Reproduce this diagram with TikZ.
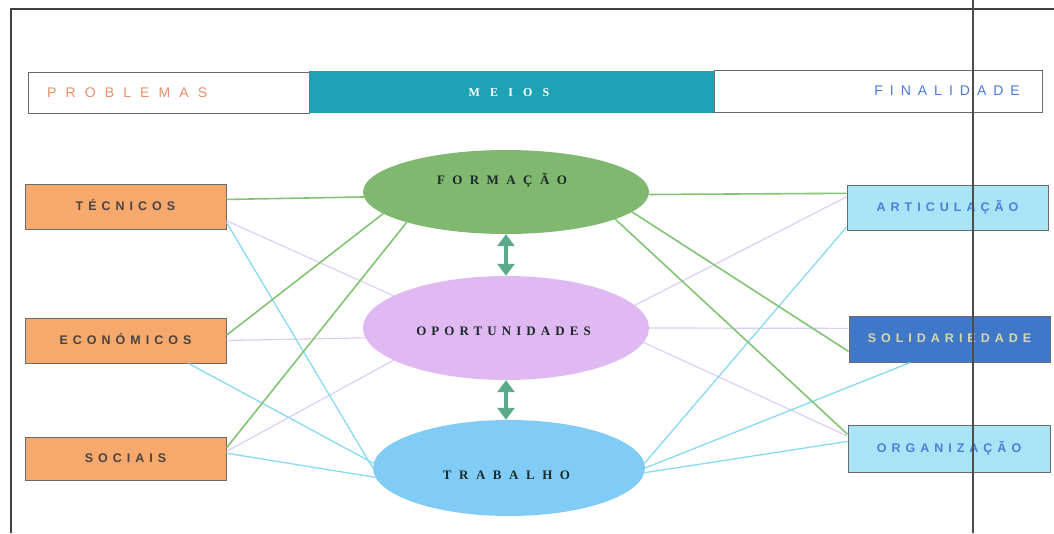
\documentclass[tikz,border=0pt]{standalone}
\usepackage{fontspec}
\setmainfont{Liberation Serif}
\newfontfamily\boxfont{Liberation Sans}
\usetikzlibrary{shapes.geometric,arrows.meta}
\definecolor{orangebox}{HTML}{F6A96C}
\definecolor{bordergray}{HTML}{6A6A6A}
\definecolor{tealhdr}{HTML}{1DA2B3}
\definecolor{probcol}{HTML}{E8906A}
\definecolor{fincol}{HTML}{4A7AD8}
\definecolor{lightcyan}{HTML}{A8E4F6}
\definecolor{solblue}{HTML}{3F78C8}
\definecolor{soltext}{HTML}{D8D8A8}
\definecolor{cyantext}{HTML}{4A80D8}
\definecolor{boxtext}{HTML}{4A4242}
\definecolor{formfill}{HTML}{80B870}
\definecolor{oporfill}{HTML}{E0B8F2}
\definecolor{trafill}{HTML}{80CCF6}
\definecolor{elltext}{HTML}{1C2A2A}
\definecolor{greenline}{HTML}{82C474}
\definecolor{cyanline}{HTML}{88DAF2}
\definecolor{lavline}{HTML}{DECDF5}
\definecolor{arrowcol}{HTML}{5BAA8C}
\newcommand{\lsp}[2]{{\addfontfeature{LetterSpace=#1}#2}}
\begin{document}
\begin{tikzpicture}[x=1pt,y=-1pt,
  hdrbox/.style={draw=bordergray,line width=1pt,fill=white,inner sep=0pt},
  tealbox/.style={fill=tealhdr,inner sep=0pt},
  hdrtext/.style={inner sep=0pt,font=\boxfont\fontsize{14}{16}\selectfont,text height=0.716em,text depth=0pt},
  probbox/.style={draw=bordergray,line width=1pt,fill=orangebox,inner sep=0pt,minimum width=201pt,
     font=\boxfont\bfseries\fontsize{12.5}{14}\selectfont,text=boxtext,text height=0.716em,text depth=0pt},
  finbox/.style={probbox,fill=lightcyan,text=cyantext},
  solbox/.style={probbox,fill=solblue,text=soltext},
  ellnode/.style={ellipse,inner sep=0pt},
  elltxt/.style={inner sep=0pt,font=\bfseries\fontsize{13}{15}\selectfont,text=elltext,text height=0.662em,text depth=0pt},
  gline/.style={draw=greenline,line width=1.6pt},
  cline/.style={draw=cyanline,line width=1.3pt},
  lline/.style={draw=lavline,line width=1.2pt},
  dblarrow/.style={draw=arrowcol,line width=4pt,{Triangle[width=17pt,length=12pt]}-{Triangle[width=17pt,length=12pt]}},
  frameline/.style={draw=black!75,line width=2pt},
  vline/.style={draw=black!70,line width=1.2pt}
]
\useasboundingbox (0,0) rectangle (1054,533);

% header
\node[hdrbox,minimum width=281pt,minimum height=41pt] (hp) at (168.5,92.5) {};
\node[hdrbox,minimum width=328pt,minimum height=42pt] (hf) at (878,91) {};
\node[tealbox,minimum width=405pt,minimum height=42pt] (hm) at (511.5,92) {};
\node[hdrtext,anchor=west,text=probcol] (tp) at (47,94) {\lsp{65}{PROBLEMAS}};
\node[hdrtext,font=\bfseries\fontsize{12}{14}\selectfont,text height=0.662em,text=white] (tm) at (509,93) {\lsp{85}{MEIOS}};
\node[hdrtext,anchor=east,text=fincol] (tf) at (1020,92) {\lsp{50}{FINALIDADE}};

% left boxes
\node[probbox,minimum height=45pt] (tec) at (125.5,206.5) {\lsp{40}{TÉCNICOS}};
\node[probbox,minimum height=45pt] (eco) at (125.5,340.5) {\lsp{40}{ECONÓMICOS}};
\node[probbox,minimum height=43pt] (soc) at (125.5,458.5) {\lsp{40}{SOCIAIS}};

% right boxes
\node[finbox,minimum height=45pt] (art) at (947.5,207.5) {\lsp{40}{ARTICULAÇÃO}};
\node[solbox,minimum height=46pt] (sol) at (949.5,339) {\lsp{40}{SOLIDARIEDADE}};
\node[finbox,minimum width=202pt,minimum height=47pt] (org) at (949,448.5) {\lsp{40}{ORGANIZAÇÃO}};

% ellipses
\node[ellnode,fill=formfill,minimum width=286pt,minimum height=84pt] (form) at (506,192) {};
\node[ellnode,fill=oporfill,minimum width=286pt,minimum height=104pt] (opor) at (506,328) {};
\node[ellnode,fill=trafill,minimum width=272pt,minimum height=96pt] (tra) at (509,468) {};
\node[elltxt] (tform) at (502,181) {\lsp{57}{FORMAÇÃO}};
\node[elltxt] (topor) at (503.5,332) {\lsp{39}{OPORTUNIDADES}};
\node[elltxt] (ttra) at (506.5,476) {\lsp{58}{TRABALHO}};

% lavender connectors
\draw[lline] (tec.352.3) -- (opor.164.2);
\draw[lline] (eco.0.9) -- (opor.184.5);
\draw[lline] (soc.4.8) -- (opor.196.7);
\draw[lline] (opor.10) -- (art.174.6);
\draw[lline] (opor.0) -- (sol.174.4);
\draw[lline] (opor.354) -- (org.173.5);

% cyan connectors
\draw[cline] (tec.351.2) -- (tra.180.4);
\draw[cline] (eco.340.8) -- (tra.178);
\draw[cline] (soc.3.7) -- (tra.184.3);
\draw[cline] (tra.2) -- (art.191.5);
\draw[cline] (tra.0) -- (sol.211.5);
\draw[cline] (tra.358) -- (org.176.3);

% green connectors
\draw[gline] (tec.4) -- (form.182.8);
\draw[gline] (eco.3) -- (form.190.9);
\draw[gline] (soc.6.5) -- (form.197.7);
\draw[gline] (form.359.2) -- (art.172.3);
\draw[gline] (form.351.9) -- (sol.187.3);
\draw[gline] (form.346.3) -- (org.172.4);

% double arrows
\draw[dblarrow] (form.south) -- (opor.north);
\draw[dblarrow] (opor.south) -- (opor.south |- tra.north);

% frame
\coordinate (ftl) at (11,9);
\coordinate (ftr) at (1054,9);
\coordinate (fbl) at (11,533);
\draw[frameline] (ftr) -- (ftl) -- (fbl);
\coordinate (vt) at (973,0);
\coordinate (vb) at (973,533);
\draw[vline] (vt) -- (vb);
\end{tikzpicture}
\end{document}
